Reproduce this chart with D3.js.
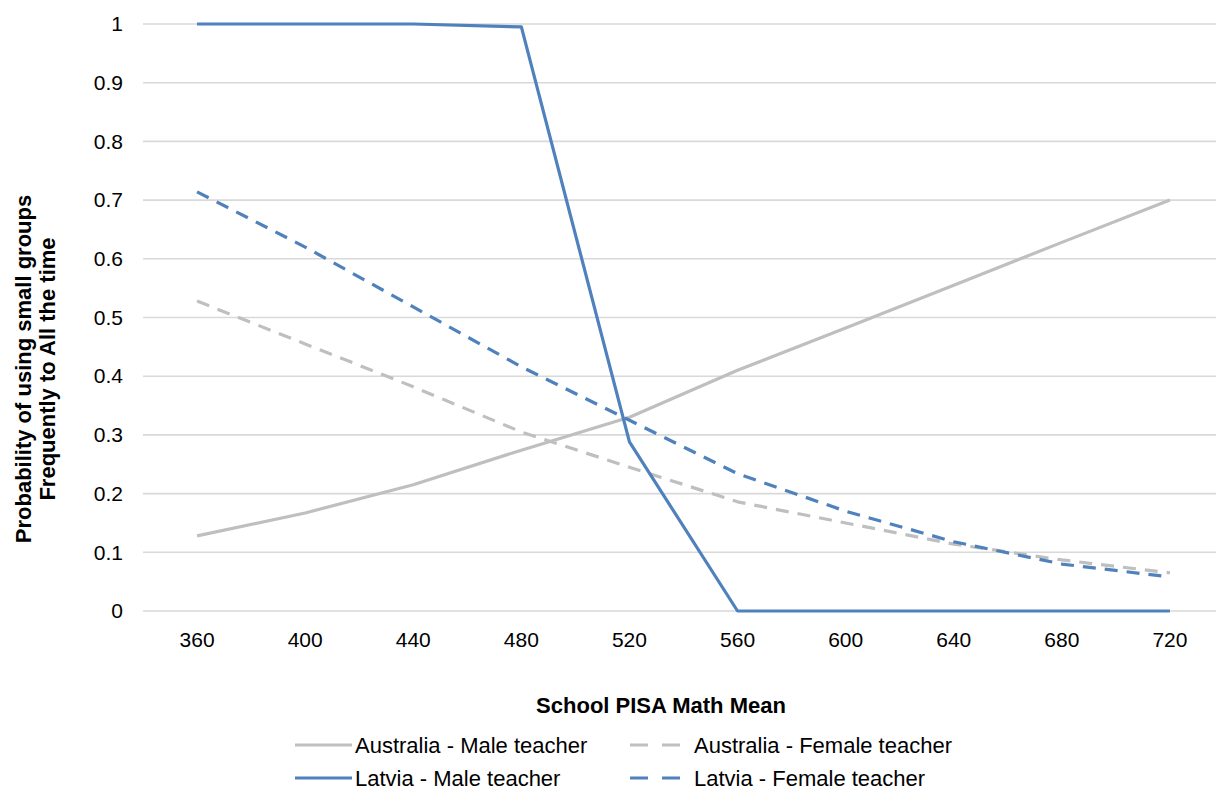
<!DOCTYPE html>
<html>
<head>
<meta charset="utf-8">
<script src="https://cdn.jsdelivr.net/npm/d3@7"></script>
<style>
  body { margin: 0; background: #fff; }
  text { font-family: "Liberation Sans", Arial, sans-serif; fill: #000; }
</style>
</head>
<body>
<div id="chart"></div>
<script>
// categories on the x axis
var scores = ["360","400","440","480","520","560","600","640","680","720"];

// series values
var ausMale   = [0.128, 0.167, 0.215, 0.274, 0.330, 0.410, 0.482, 0.555, 0.628, 0.700];
var ausFemale = [0.528, 0.455, 0.382, 0.305, 0.245, 0.186, 0.150, 0.114, 0.087, 0.065];
var latMale   = [1.000, 1.000, 1.000, 0.995, 0.288, 0.000, 0.000, 0.000, 0.000, 0.000];
var latFemale = [0.714, 0.620, 0.518, 0.416, 0.325, 0.234, 0.170, 0.118, 0.080, 0.058];

var yTicks = [0, 0.1, 0.2, 0.3, 0.4, 0.5, 0.6, 0.7, 0.8, 0.9, 1];

var series = [
  {name: "Australia - Male teacher",   values: ausMale,   color: "#bfbfbf", dash: null},
  {name: "Australia - Female teacher", values: ausFemale, color: "#bfbfbf", dash: "13,9"},
  {name: "Latvia - Male teacher",      values: latMale,   color: "#4f81bd", dash: null},
  {name: "Latvia - Female teacher",    values: latFemale, color: "#4f81bd", dash: "13,9"}
];

var W = 1216, H = 792;
var svg = d3.select("#chart").append("svg")
    .attr("width", W)
    .attr("height", H);

// x = category band, y = probability
var x = d3.scaleBand()
    .domain(scores)
    .range([143, 1224]);
var y = d3.scaleLinear()
    .domain([0, 1])
    .range([611, 24]);

// gridlines
svg.append("g")
  .selectAll("line")
  .data(yTicks)
  .enter().append("line")
    .attr("x1", 143)
    .attr("x2", W)
    .attr("y1", function(d){ return y(d); })
    .attr("y2", function(d){ return y(d); })
    .attr("stroke", "#d9d9d9")
    .attr("stroke-width", 1.6);

// y axis labels
var yAxis = svg.append("g")
    .attr("transform", "translate(143,0)")
    .call(d3.axisLeft(y).tickValues(yTicks).tickSize(0).tickPadding(20)
      .tickFormat(function(d){ return d3.format("~g")(d); }));
yAxis.select(".domain").remove();
yAxis.selectAll("text").style("font-size", "21px").attr("font-family", null);

// x axis labels
var xAxis = svg.append("g")
    .attr("transform", "translate(0,611)")
    .call(d3.axisBottom(x).tickSize(0).tickPadding(21));
xAxis.select(".domain").remove();
xAxis.selectAll("text").style("font-size", "21px").attr("font-family", null);

// lines
var line = d3.line()
    .x(function(d, i){ return x(scores[i]) + x.bandwidth() / 2; })
    .y(function(d){ return y(d); });

svg.append("g")
  .selectAll("path")
  .data(series)
  .enter().append("path")
    .attr("d", function(d){ return line(d.values); })
    .attr("fill", "none")
    .attr("stroke", function(d){ return d.color; })
    .attr("stroke-width", 3.2)
    .attr("stroke-dasharray", function(d){ return d.dash; })
    .attr("stroke-linejoin", "round");

// axis titles
svg.append("text")
    .attr("transform", "translate(31,369) rotate(-90)")
    .attr("text-anchor", "middle")
    .style("font-size", "22px")
    .style("font-weight", "bold")
  .selectAll("tspan")
  .data(["Probability of using small groups", "Frequently to All the time"])
  .enter().append("tspan")
    .attr("x", 0)
    .attr("dy", function(d, i){ return i ? 24 : 0; })
    .text(function(d){ return d; });

svg.append("text")
    .attr("x", 661)
    .attr("y", 713)
    .attr("text-anchor", "middle")
    .style("font-size", "22px")
    .style("font-weight", "bold")
    .text("School PISA Math Mean");

// legend
var legendPos = [[295, 745], [630, 745], [295, 778], [630, 778]];
var legend = svg.append("g")
  .selectAll("g")
  .data(series)
  .enter().append("g")
    .attr("transform", function(d, i){ return "translate(" + legendPos[i][0] + "," + legendPos[i][1] + ")"; });

legend.append("line")
    .attr("x1", 0)
    .attr("x2", function(d){ return d.dash ? 50 : 57; })
    .attr("stroke", function(d){ return d.color; })
    .attr("stroke-width", 3.2)
    .attr("stroke-dasharray", function(d){ return d.dash ? "18,14" : null; });

legend.append("text")
    .attr("x", function(d){ return d.dash ? 64 : 60; })
    .attr("dy", "0.35em")
    .style("font-size", "22px")
    .text(function(d){ return d.name; });
</script>
</body>
</html>
